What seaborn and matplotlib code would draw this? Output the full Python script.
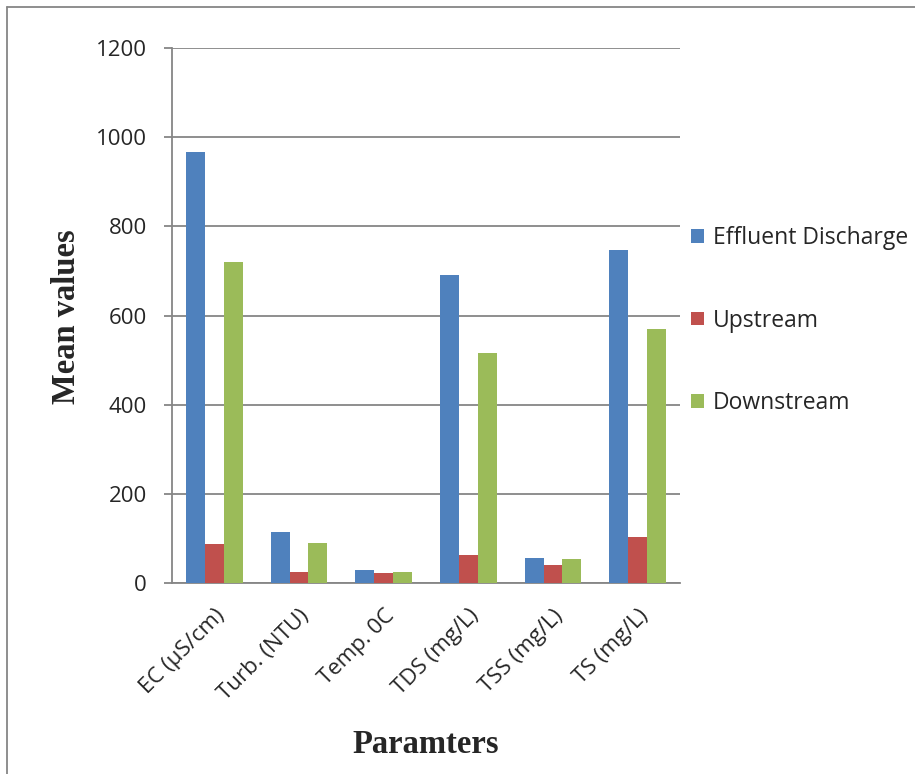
import matplotlib
matplotlib.use("Agg")
import matplotlib.pyplot as plt
from matplotlib.lines import Line2D
from matplotlib.patches import Patch
import seaborn as sns
import pandas as pd

# Mean water-quality parameters at each sampling point
parameters = ["EC (µS/cm)", "Turb. (NTU)", "Temp. 0C", "TDS (mg/L)", "TSS (mg/L)", "TS (mg/L)"]
effluent = [966, 115, 29, 690, 56, 746]
upstream = [88, 25, 23, 63, 40, 103]
downstream = [721, 90, 25, 515, 54, 569]
series = ["Effluent Discharge", "Upstream", "Downstream"]
colors = ["#4F81BD", "#C0504D", "#9BBB59"]

df = pd.DataFrame({
    "Parameter": parameters * 3,
    "Site": [s for s in series for _ in parameters],
    "Value": effluent + upstream + downstream,
})

sns.set_theme(style="white")
plt.rcParams["font.family"] = ["Open Sans", "DejaVu Sans"]

fig = plt.figure(figsize=(9.15, 7.74), dpi=100)
ax = fig.add_axes([172 / 915, 1 - 583 / 774, 508 / 915, 535 / 774])

sns.barplot(data=df, x="Parameter", y="Value", hue="Site", palette=colors,
            width=0.67, gap=0, saturation=1, ax=ax, legend=False,
            edgecolor="none", linewidth=0, zorder=3)

ax.set_xlim(-0.5, len(parameters) - 0.5)
ax.set_ylim(0, 1200)
ax.set_yticks(range(0, 1201, 200))
ax.yaxis.grid(True, color="#868686", linewidth=1.3, zorder=0)
ax.set_axisbelow(True)

for side in ["top", "right"]:
    ax.spines[side].set_visible(False)
for side in ["left", "bottom"]:
    ax.spines[side].set_color("#868686")
    ax.spines[side].set_linewidth(1.3)

ax.tick_params(axis="y", which="major", length=6, width=1.3, color="#868686",
               direction="out", left=True, labelsize=16, pad=12)
ax.tick_params(axis="x", length=0, labelsize=16, pad=16)
plt.setp(ax.get_xticklabels(), rotation=45, ha="right", rotation_mode="anchor")

ax.set_xlabel("Paramters", family="Liberation Serif", fontweight="bold", fontsize=23.5)
ax.set_ylabel("Mean values", family="Liberation Serif", fontweight="bold", fontsize=23.5)
ax.xaxis.set_label_coords(0.5, -0.272)
ax.yaxis.set_label_coords(-0.178, 0.497)

handles = [Patch(facecolor=c, edgecolor="none") for c in colors]
fig.legend(handles, series, loc="upper left", bbox_to_anchor=(682 / 915, 1 - 217 / 774),
           frameon=False, fontsize=16.5, handlelength=0.55, handleheight=0.55,
           handletextpad=0.4, labelspacing=2.55, borderaxespad=0)

# Thin frame along the top and left edges of the figure
fig.add_artist(Line2D([7 / 915, 7 / 915], [0, 1 - 7 / 774], transform=fig.transFigure,
                      color="#868686", linewidth=1.3))
fig.add_artist(Line2D([7 / 915, 1], [1 - 7 / 774, 1 - 7 / 774], transform=fig.transFigure,
                      color="#868686", linewidth=1.3))

fig.savefig("out.png", dpi=100)
